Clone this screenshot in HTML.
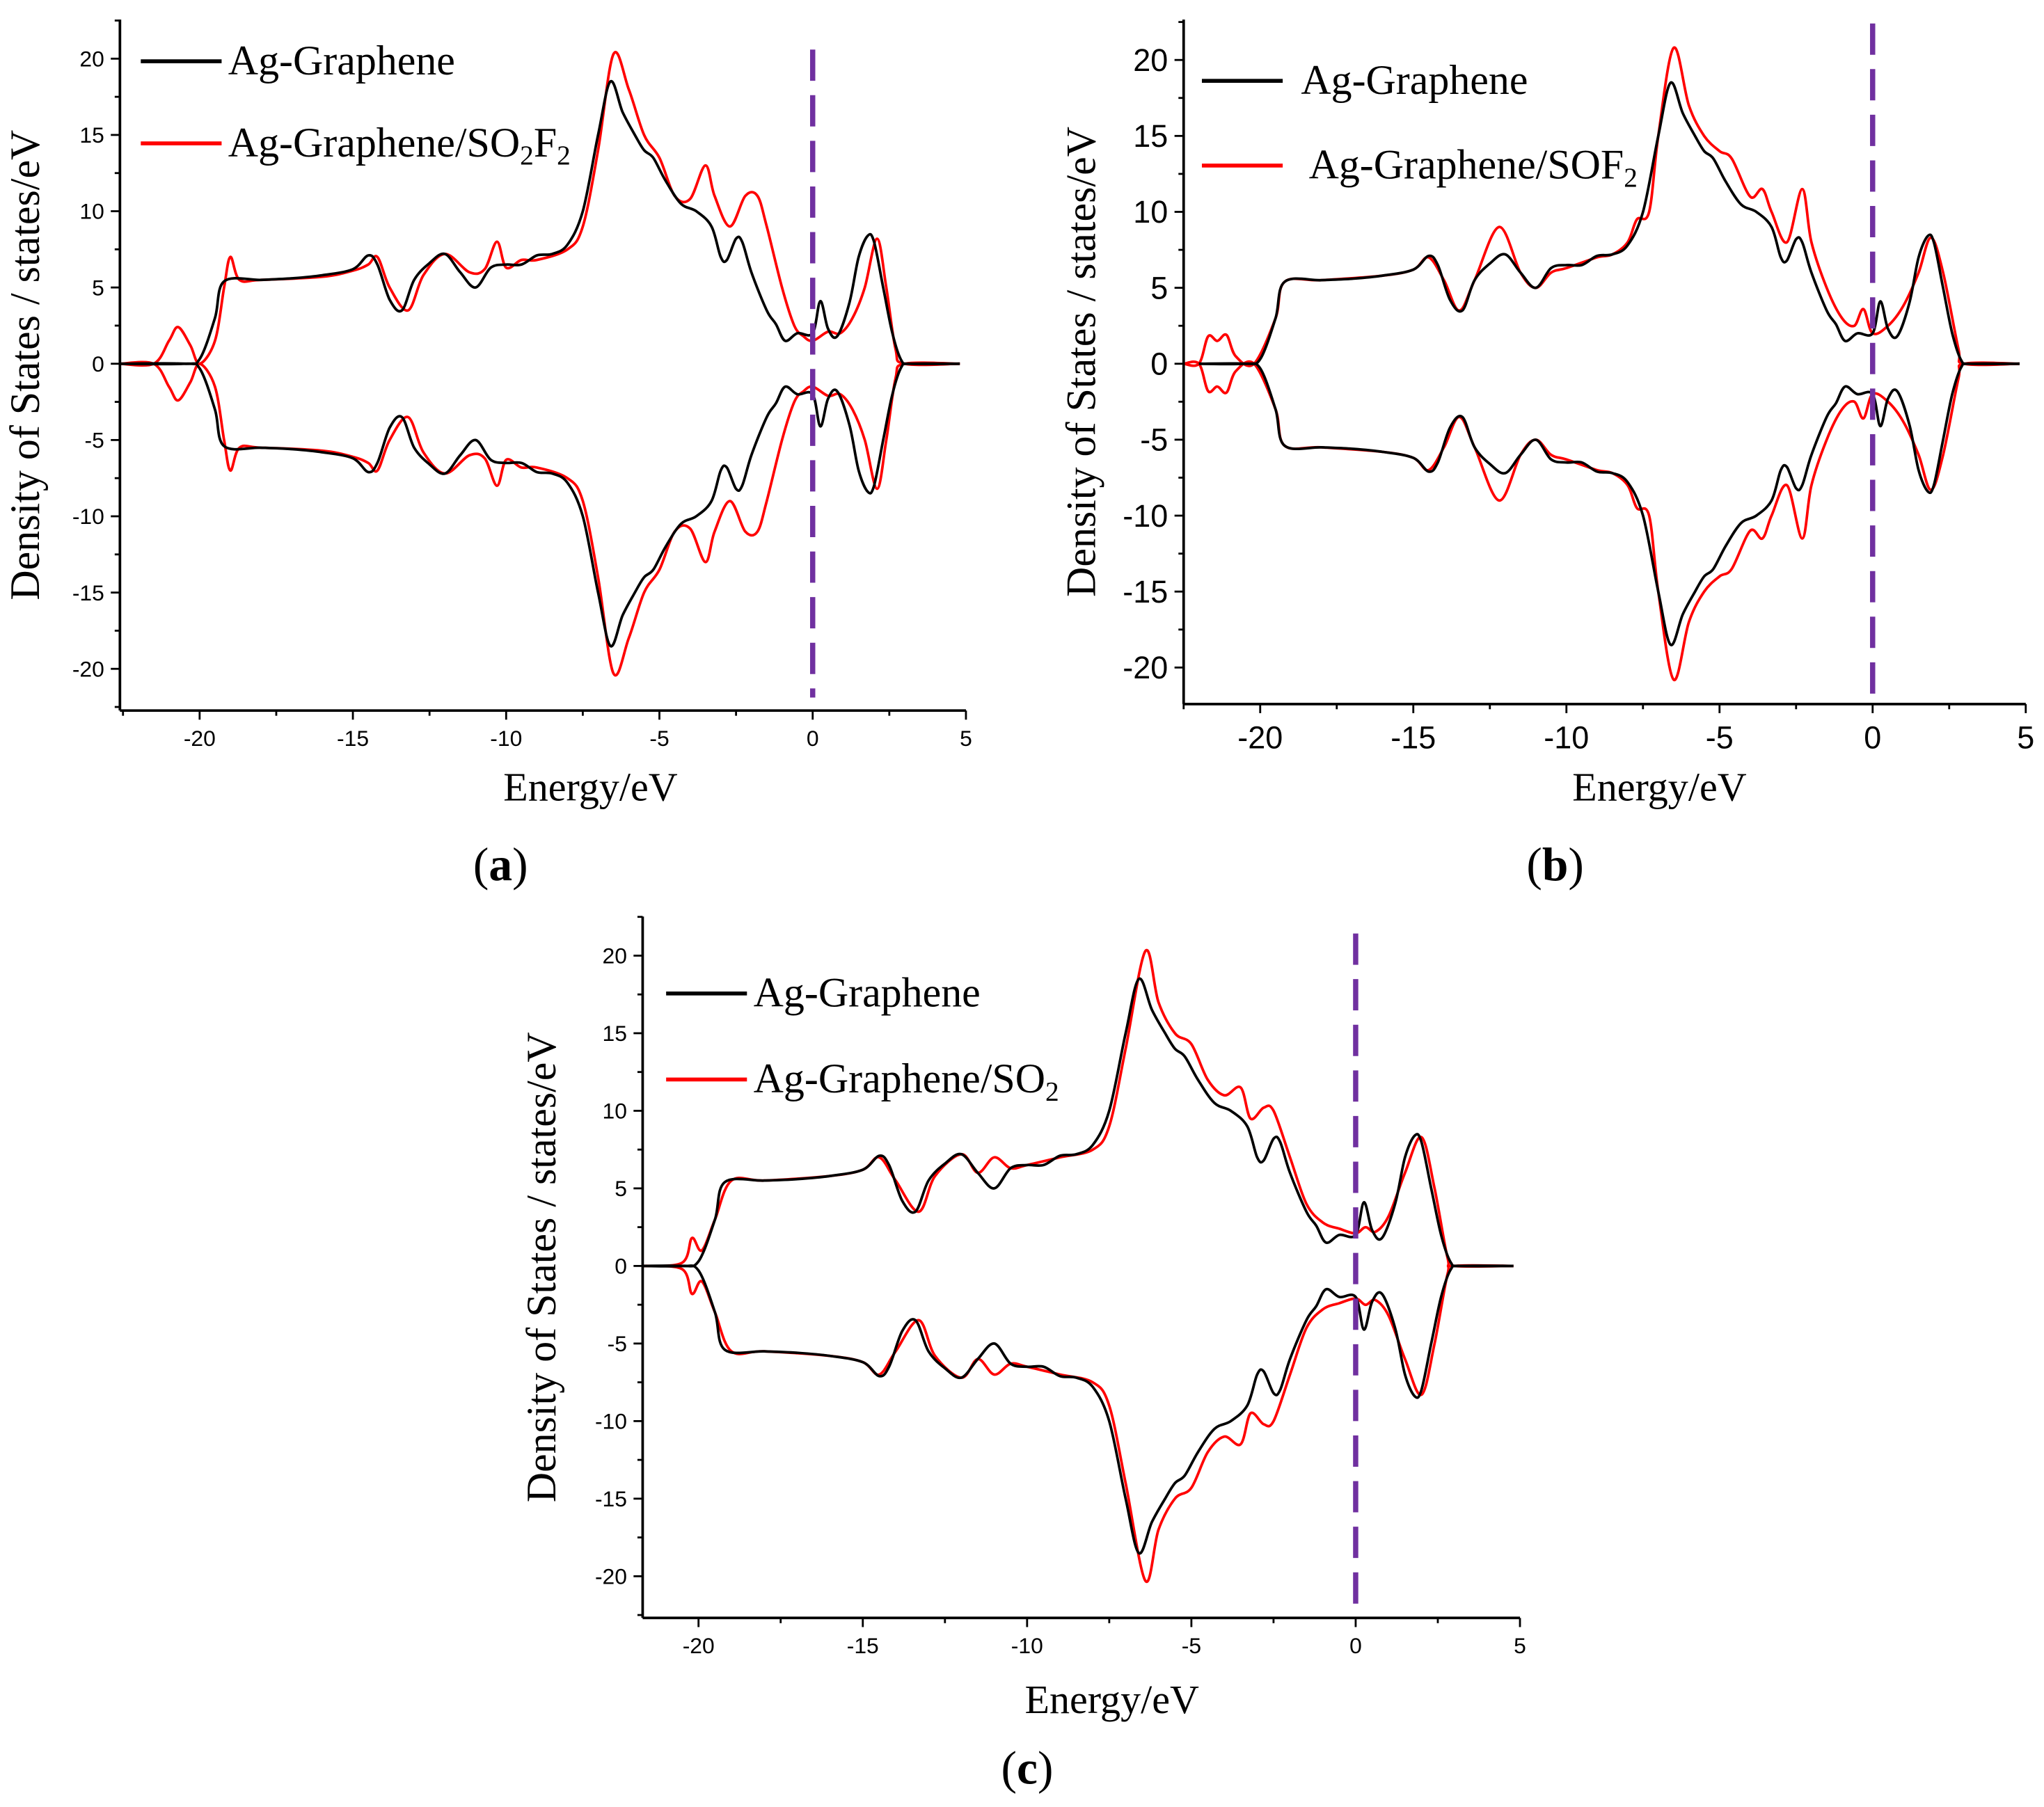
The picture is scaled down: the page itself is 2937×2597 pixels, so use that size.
<!DOCTYPE html>
<html><head><meta charset="utf-8"><style>
html,body{margin:0;padding:0;background:#fff;}
svg{display:block;}
.tk{font-family:"Liberation Sans",sans-serif;fill:#000;}
.sr{font-family:"Liberation Serif",serif;fill:#000;}
</style></head><body>
<svg id="fig" width="2937" height="2597" viewBox="0 0 1568 1386" preserveAspectRatio="none" xmlns="http://www.w3.org/2000/svg"></svg>
<script>
// Energies (eV) and DOS values (states/eV), positive spin; negative spin mirrored
const blackE = [-22.6,-20.5,-20,-19.5,-19.2,-18,-17,-16,-15,-14.5,-14.2,-13.8,-13.4,-13,-12.5,-12,-11.5,-11,-10.5,-10,-9.5,-9,-8.5,-8,-7.5,-7,-6.6,-6.2,-5.8,-5.5,-5.2,-4.8,-4.3,-3.8,-3.3,-3,-2.8,-2.5,-2.3,-2,-1.5,-1.2,-0.9,-0.5,0,0.25,0.5,0.8,1.2,1.5,1.8,2.0,2.3,2.6,2.9,3.2,4.8];
const blackD = [0,0,0.3,3,5.4,5.5,5.6,5.8,6.2,7.1,6.5,4.2,3.5,5.5,6.6,7.2,6,5,6.3,6.5,6.5,7.1,7.2,7.8,10,15,18.5,16.5,15,14,13.5,12,10.5,10,9,7,6.8,8.2,8,6,3.5,2.6,1.5,2,2,4.1,2.3,1.8,4,7,8.4,8,5,2,0.2,0,0];

const redAE = [-22.6,-21.5,-21,-20.7,-20.3,-20,-19.5,-19.2,-19,-18.7,-18,-16,-15,-14.5,-14.2,-13.8,-13.2,-12.7,-12,-11.2,-10.7,-10.3,-10,-9.5,-9,-8,-7.5,-7,-6.5,-6,-5.5,-5,-4.5,-4,-3.5,-3.2,-2.7,-2.2,-1.8,-1.5,-1,-0.6,-0.3,0,0.5,0.9,1.3,1.7,2.1,2.4,2.7,3,4.8];
const redAD = [0,0,1.5,2.4,1.2,0,1.5,5,7,5.5,5.5,5.7,6.1,6.5,7,5,3.5,5.8,7.2,6,6.2,8,6.3,6.8,6.8,7.5,9,14,20.3,18,15,13.5,11,10.8,13,11,9,11,11,9,5,2.5,1.8,1.5,2.1,2.0,3,5,8.2,5,1,0,0];

const redBE = [-22.5,-22,-21.7,-21.4,-21.1,-20.8,-20.2,-19.5,-19.2,-18,-16,-15,-14.5,-14,-13.5,-13,-12.2,-11.5,-11,-10.5,-10,-9,-8.5,-8,-7.7,-7.3,-7,-6.5,-6,-5.5,-5,-4.6,-4,-3.6,-3.3,-2.8,-2.3,-2,-1.5,-1,-0.6,-0.3,0,0.5,1.0,1.5,1.9,2.3,2.8,3,4.8];
const redBD = [0,0,1.8,1.5,1.9,0.5,0,3,5.4,5.5,5.8,6.2,7,5.5,3.5,5.5,9,6,5,6,6.3,7,7.2,8,9.5,10,15,20.8,17,15,14,13.5,11,11.5,10,8,11.5,8,5,3,2.5,3.6,2,2.5,3.8,6,8.3,6,1,0,0];

const blackCE = [-21.7,-20.5,-20,-19.5,-19.2,-18,-17,-16,-15,-14.5,-14.2,-13.8,-13.4,-13,-12.5,-12,-11.5,-11,-10.5,-10,-9.5,-9,-8.5,-8,-7.5,-7,-6.6,-6.2,-5.8,-5.5,-5.2,-4.8,-4.3,-3.8,-3.3,-3,-2.8,-2.5,-2.3,-2,-1.5,-1.2,-0.9,-0.5,0,0.25,0.5,0.8,1.2,1.5,1.8,2.0,2.3,2.6,2.9,3.2,4.8];
const redCE = [-21.7,-20.5,-20.2,-19.9,-19.5,-19,-18,-16,-15,-14.5,-14,-13.3,-12.8,-12,-11.5,-11,-10.5,-10,-9,-8,-7.5,-7,-6.4,-6,-5.5,-5,-4.5,-4,-3.5,-3.2,-2.8,-2.5,-2,-1.5,-1,-0.5,0,0.3,0.6,1.0,1.5,2.0,2.4,2.8,3,4.8];
const redCD = [0,0.2,1.8,1.0,3,5.5,5.5,5.8,6.2,7,5.5,3.5,5.8,7.2,6,7,6.3,6.5,7,7.5,9,14,20.3,17,15,14.3,12,11,11.5,9.5,10.2,10,7,4,2.8,2.4,2.1,2.5,2.2,3.2,6,8.3,5,0.5,0,0];

const xTicks = [-20,-15,-10,-5,0,5];
const yTicks = [20,15,10,5,0,-5,-10,-15,-20];

const panels = [
 {id:'a', left:92, top:15, bottom:545, xr:[-22.6,5], px:[92,741], y0:279, y20:45, lab:'(a)', labX:384, labY:675, tf:17, leg:['Ag-Graphene','SO','F'], legX:108, legY:[47,110], vline:[38,535], xtX:453, xtY:614, ytX:30, curves:[[blackE,blackD],[redAE,redAD]]},
 {id:'b', left:908, top:15, bottom:540, xr:[-22.5,5], px:[908,1554], y0:279, y20:46, lab:'(b)', labX:1193, labY:675, tf:24, leg:['Ag-Graphene','SOF',''], legX:922, legY:[62,127], vline:[18,540], xtX:1273, xtY:614, ytX:840, curves:[[blackE,blackD],[redBE,redBD]]},
 {id:'c', left:493, top:703, bottom:1241, xr:[-21.7,5], px:[493,1166], y0:971, y20:733, lab:'(c)', labX:788, labY:1368, tf:17, leg:['Ag-Graphene','SO',''], legX:511, legY:[762,828], vline:[716,1240], xtX:853, xtY:1314, ytX:426, curves:[[blackCE,blackD],[redCE,redCD]]}
];
panels[1].curves[0] = [[-22,...blackE.slice(1)], blackD];

const svg = document.getElementById('fig');
const NS = 'http://www.w3.org/2000/svg';
function mk(tag, attrs, parent){const e=document.createElementNS(NS,tag);for(const k in attrs)e.setAttribute(k,attrs[k]);(parent||svg).appendChild(e);return e;}
function smooth(pts){
  let d='M'+pts[0][0].toFixed(1)+','+pts[0][1].toFixed(1);
  for(let i=0;i<pts.length-1;i++){
    const p0=pts[Math.max(0,i-1)],p1=pts[i],p2=pts[i+1],p3=pts[Math.min(pts.length-1,i+2)];
    const c1=[p1[0]+(p2[0]-p0[0])/6,p1[1]+(p2[1]-p0[1])/6];
    const c2=[p2[0]-(p3[0]-p1[0])/6,p2[1]-(p3[1]-p1[1])/6];
    d+='C'+c1[0].toFixed(1)+','+c1[1].toFixed(1)+' '+c2[0].toFixed(1)+','+c2[1].toFixed(1)+' '+p2[0].toFixed(1)+','+p2[1].toFixed(1);
  }
  return d;
}
panels.forEach(p=>{
  const g = mk('g',{});
  
  
  const pxPerE = (p.px[1]-p.px[0])/(p.xr[1]-p.xr[0]);
  const X = e => p.px[0] + (e - p.xr[0])*pxPerE;
  const pyPer = (p.y0-p.y20)/20;
  const Y = v => p.y0 - v*pyPer;
  const cols=['#000','#ff0000'];
  [1,0].forEach(ci=>{
    const [E,D]=p.curves[ci];
    [1,-1].forEach(s=>{
      const pts=E.map((e,i)=>[X(e),Y(s*D[i])]);
      const path=mk('path',{d:smooth(pts),fill:'none',stroke:cols[ci],'stroke-width':2},g);
      
      
    });
  });
  const vl=mk('line',{x1:X(0),x2:X(0),y1:p.vline[0],y2:p.vline[1],stroke:'#7030a0','stroke-width':4,'stroke-dasharray':'24,11'},g);
  
  
  const ya=mk('line',{x1:p.left,x2:p.left,y1:p.top,y2:p.bottom,stroke:'#000','stroke-width':2},g);
  
  
  const xa=mk('line',{x1:p.left,x2:p.px[1],y1:p.bottom,y2:p.bottom,stroke:'#000','stroke-width':2},g);
  
  
  for(let e=-22.5;e<=5.01;e+=2.5){ if(e<p.xr[0]-0.01) continue; const maj=Math.abs(e%5)<0.01;
    mk('line',{x1:X(e),x2:X(e),y1:p.bottom,y2:p.bottom+(maj?7:4),stroke:'#000','stroke-width':1.5},g);}
  for(let v=-22.5;v<=22.51;v+=2.5){ const yy=Y(v); if(yy<p.top||yy>p.bottom) continue; const maj=Math.abs(v%5)<0.01;
    mk('line',{x1:p.left,x2:p.left-(maj?7:4),y1:yy,y2:yy,stroke:'#000','stroke-width':1.5},g);}
  xTicks.forEach(t=>{const tx=mk('text',{x:X(t),y:p.bottom+p.tf+10,'font-size':p.tf,'text-anchor':'middle',class:'tk'},g);tx.textContent=t;
    
    });
  yTicks.forEach(t=>{const tx=mk('text',{x:p.left-12,y:Y(t)+p.tf*0.35,'font-size':p.tf,'text-anchor':'end',class:'tk'},g);tx.textContent=t;
    
    });
  const xt=mk('text',{x:p.xtX,y:p.xtY,'font-size':31,'text-anchor':'middle',class:'sr'},g);xt.textContent='Energy/eV';
  
  
  const ycx=p.ytX, ycy=(p.top+p.bottom)/2;
  const yt=mk('text',{x:ycx,y:ycy,'font-size':32,'text-anchor':'middle',class:'sr',transform:`rotate(-90 ${ycx} ${ycy})`},g);yt.textContent='Density of States / states/eV';
  
  
  [0,1].forEach(i=>{
    const ly=p.legY[i];
    const ln=mk('line',{x1:p.legX,x2:p.legX+62,y1:ly,y2:ly,stroke:cols[i],'stroke-width':3},g);
    
    
    const t=mk('text',{x:p.legX+(i&&p.id=='b'?82:(p.id=='b'?76:67)),y:ly+10,'font-size':32,class:'sr'},g);
    
    
    if(i==0){t.textContent='Ag-Graphene';}
    else{
      t.appendChild(document.createTextNode('Ag-Graphene/'+p.leg[1]));
      const s1=mk('tspan',{'font-size':21,dy:6},t);s1.textContent='2';
      if(p.leg[2]){const s2=mk('tspan',{dy:-6},t);s2.textContent=p.leg[2];const s3=mk('tspan',{'font-size':21,dy:6},t);s3.textContent='2';}
    }
  });
  const pl=mk('text',{x:p.labX,y:p.labY,'font-size':36,'text-anchor':'middle',class:'sr'},g);
  pl.innerHTML='(<tspan font-weight="bold">'+p.lab[1]+'</tspan>)';
  
  
});
</script>
</body></html>
